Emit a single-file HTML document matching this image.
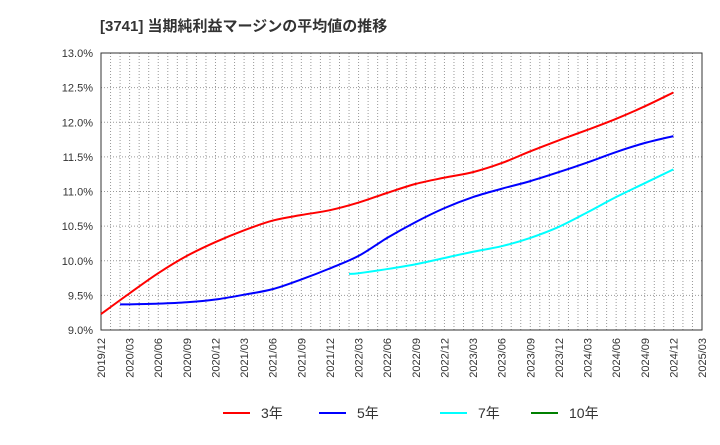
<!DOCTYPE html>
<html><head><meta charset="utf-8"><style>
body{margin:0;background:#fff;font-family:"Liberation Sans","Noto Sans CJK JP",sans-serif;}
svg text{font-family:"Liberation Sans","Noto Sans CJK JP",sans-serif;}
</style></head><body>
<svg id="c" width="720" height="440" xmlns="http://www.w3.org/2000/svg">
<text x="100" y="31" font-size="15" font-weight="bold" fill="#333">[3741]  当期純利益マージンの平均値の推移</text>
<g id="grid"></g><g id="axes"></g><g id="series"></g><g id="legend"></g>
</svg>
<script>
const yTicks=[9.0,9.5,10.0,10.5,11.0,11.5,12.0,12.5,13.0];
const xLabels=["2019/12","2020/03","2020/06","2020/09","2020/12","2021/03","2021/06","2021/09","2021/12","2022/03","2022/06","2022/09","2022/12","2023/03","2023/06","2023/09","2023/12","2024/03","2024/06","2024/09","2024/12","2025/03"];
const red3Months=[0,3,6,9,12,15,18,21,24,27,30,33,36,39,42,45,48,51,54,57,60];
const red3=[9.23,9.53,9.82,10.07,10.27,10.44,10.58,10.66,10.73,10.84,10.98,11.11,11.20,11.28,11.41,11.58,11.74,11.89,12.05,12.23,12.43];
const blue5Months=[2,3,6,9,12,15,18,21,24,27,30,33,36,39,42,45,48,51,54,57,60];
const blue5=[9.37,9.37,9.38,9.40,9.44,9.51,9.59,9.73,9.89,10.07,10.33,10.56,10.76,10.92,11.04,11.15,11.28,11.42,11.57,11.70,11.80];
const cyan7Months=[26,27,30,33,36,39,42,45,48,51,54,57,60];
const cyan7=[9.81,9.82,9.88,9.95,10.04,10.13,10.21,10.33,10.49,10.70,10.92,11.12,11.32];
const L=101,R=702,T=53,B=330,NM=63;
const xs=m=>L+(R-L)*m/NM, ys=v=>B-(v-9)/4*(B-T);
const NS="http://www.w3.org/2000/svg";
function mk(tag,attrs,parent){const e=document.createElementNS(NS,tag);for(const k in attrs)e.setAttribute(k,attrs[k]);parent.appendChild(e);return e;}
const grid=document.getElementById('grid'),axes=document.getElementById('axes'),ser=document.getElementById('series'),leg=document.getElementById('legend');
for(let m=1;m<NM;m++){const l=mk('line',{x1:xs(m),x2:xs(m),y1:T,y2:B,stroke:'#999','stroke-dasharray':'1,2','stroke-width':1},grid);

}
yTicks.forEach(v=>{const l=mk('line',{x1:L,x2:R,y1:ys(v),y2:ys(v),stroke:'#999','stroke-dasharray':'1,2','stroke-width':1},grid);


const t=mk('text',{x:L-8,y:ys(v)+4,'text-anchor':'end','font-size':11,fill:'#333'},axes);t.textContent=v.toFixed(1)+'%';

});
const fr=mk('rect',{x:L,y:T,width:R-L,height:B-T,fill:'none',stroke:'#333','stroke-width':1},axes);


xLabels.forEach((s,i)=>{const x=xs(i*3);const t=mk('text',{x:0,y:0,'text-anchor':'end','font-size':11,fill:'#333',transform:`translate(${x+4},${B+8}) rotate(-90)`},axes);t.textContent=s;

});
function path(ms,vs){const p=ms.map((m,i)=>[xs(m),ys(vs[i])]);let d=`M${p[0][0]},${p[0][1]}`;
for(let i=0;i<p.length-1;i++){const p0=p[i-1]||p[i],p1=p[i],p2=p[i+1],p3=p[i+2]||p2;
d+=` C${p1[0]+(p2[0]-p0[0])/6},${p1[1]+(p2[1]-p0[1])/6} ${p2[0]-(p3[0]-p1[0])/6},${p2[1]-(p3[1]-p1[1])/6} ${p2[0]},${p2[1]}`;}return d;}
[[red3Months,red3,'#ff0000','line-3yr'],[blue5Months,blue5,'#0000ff','line-5yr'],[cyan7Months,cyan7,'#00ffff','line-7yr']].forEach(([m,v,c,n])=>{
const e=mk('path',{d:path(m,v),fill:'none',stroke:c,'stroke-width':2},ser);

});
[['3年','#ff0000',223],['5年','#0000ff',319],['7年','#00ffff',440],['10年','#008000',531]].forEach(([s,c,x])=>{
const l=mk('line',{x1:x,x2:x+27,y1:413,y2:413,stroke:c,'stroke-width':2},leg);


const t=mk('text',{x:x+38,y:418,'font-size':14,fill:'#333'},leg);t.textContent=s;

});
</script>
</body></html>
